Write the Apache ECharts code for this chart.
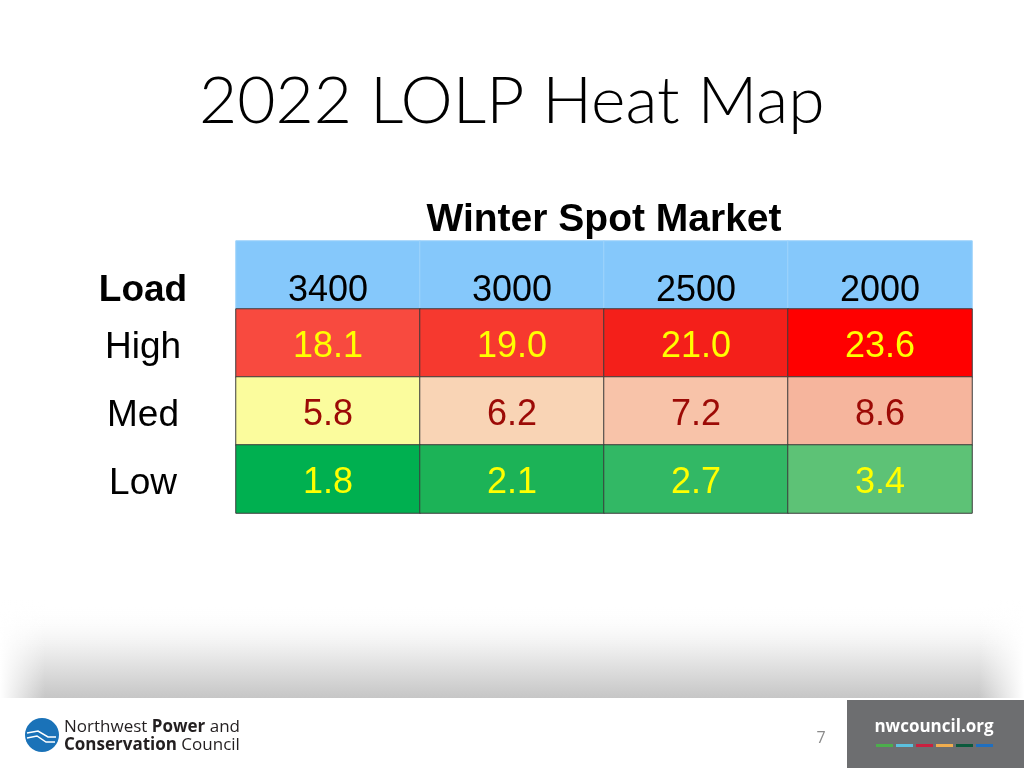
<!DOCTYPE html>
<html>
<head>
<meta charset="utf-8">
<script src="https://cdn.jsdelivr.net/npm/echarts@6/dist/echarts.min.js"></script>
<style>
  html, body { margin: 0; padding: 0; background: #fff; }
  #chart { width: 1024px; height: 768px; }
</style>
</head>
<body>
<div id="chart"></div>
<script>
// table data
const spotMarket = ['3400', '3000', '2500', '2000']
const loadLevels = ['High', 'Med', 'Low']
const lolpHigh = [18.1, 19.0, 21.0, 23.6]
const lolpMed = [5.8, 6.2, 7.2, 8.6]
const lolpLow = [1.8, 2.1, 2.7, 3.4]

// cell fills copied from the slide (conditional format per row)
const highColors = ['#f84a3f', '#f6392f', '#f41f1a', '#ff0000']
const medColors = ['#fbfc9d', '#f9d4b5', '#f8c3a9', '#f6b59d']
const lowColors = ['#00b050', '#1cb357', '#32b865', '#5dc276']

const rows = [
  { values: lolpHigh, colors: highColors, text: '#ffff00' },
  { values: lolpMed, colors: medColors, text: '#9c0a06' },
  { values: lolpLow, colors: lowColors, text: '#ffff00' }
]

const cellData = []
rows.forEach((row, r) => {
  row.values.forEach((v, c) => {
    cellData.push({
      value: [c, r + 1, v],
      itemStyle: { color: row.colors[c] },
      label: { color: row.text }
    })
  })
})

const headerData = spotMarket.map((name, c) => [c, 0, 0])

const chart = echarts.init(document.getElementById('chart'))
chart.setOption({
  animation: false,
  title: [
    {
      text: '2022 LOLP Heat Map',
      left: 194,
      top: 64,
      textStyle: {
        fontFamily: 'Lato',
        fontWeight: 300,
        fontSize: 66,
        color: '#000'
      }
    },
    {
      text: 'Winter Spot Market',
      left: 599,
      textAlign: 'center',
      top: 196,
      textStyle: {
        fontFamily: 'Liberation Sans, Arial',
        fontWeight: 'bold',
        fontSize: 39,
        color: '#000'
      }
    }
  ],
  grid: {
    left: 236,
    right: 52,
    top: 241,
    bottom: 255
  },
  xAxis: {
    type: 'category',
    data: spotMarket,
    show: false
  },
  yAxis: {
    type: 'category',
    inverse: true,
    data: ['Load'].concat(loadLevels),
    axisLine: { show: false },
    axisTick: { show: false },
    splitLine: { show: false },
    axisLabel: {
      margin: 93,
      align: 'center',
      fontFamily: 'Liberation Sans, Arial',
      fontSize: 37,
      color: '#000',
      padding: [10, 0, 0, 0],
      formatter: (v) => (v === 'Load' ? '{b|' + v + '}' : v),
      rich: {
        b: {
          fontFamily: 'Liberation Sans, Arial',
          fontWeight: 'bold',
          fontSize: 37,
          color: '#000',
          padding: [22, 0, 0, 0]
        }
      }
    }
  },
  series: [
    {
      type: 'heatmap',
      data: headerData,
      itemStyle: {
        color: '#85c8fb',
        borderColor: '#9fd3fb',
        borderWidth: 1
      },
      label: {
        show: true,
        formatter: (p) => spotMarket[p.value[0]],
        fontFamily: 'Liberation Sans, Arial',
        fontSize: 36,
        color: '#000',
        offset: [0, 16]
      },
      emphasis: { disabled: true }
    },
    {
      type: 'heatmap',
      data: cellData,
      itemStyle: {
        borderColor: '#3c3c3c',
        borderWidth: 1
      },
      label: {
        show: true,
        formatter: (p) => p.value[2].toFixed(1),
        fontFamily: 'Liberation Sans, Arial',
        fontSize: 36,
        offset: [0, 4]
      },
      emphasis: { disabled: true }
    }
  ],
  graphic: [
    // footer shadow band
    {
      type: 'rect',
      shape: { x: 0, y: 605, width: 1024, height: 93 },
      style: {
        fill: new echarts.graphic.LinearGradient(0, 0, 0, 1, [
          { offset: 0, color: 'rgba(255,255,255,0)' },
          { offset: 0.5, color: 'rgba(236,236,236,1)' },
          { offset: 1, color: 'rgba(198,198,198,1)' }
        ])
      },
      silent: true
    },
    {
      type: 'rect',
      shape: { x: 0, y: 600, width: 45, height: 98 },
      style: {
        fill: new echarts.graphic.LinearGradient(0, 0, 1, 0, [
          { offset: 0, color: 'rgba(255,255,255,1)' },
          { offset: 1, color: 'rgba(255,255,255,0)' }
        ])
      },
      silent: true
    },
    {
      type: 'rect',
      shape: { x: 979, y: 600, width: 45, height: 98 },
      style: {
        fill: new echarts.graphic.LinearGradient(0, 0, 1, 0, [
          { offset: 0, color: 'rgba(255,255,255,0)' },
          { offset: 1, color: 'rgba(255,255,255,1)' }
        ])
      },
      silent: true
    },
    {
      type: 'rect',
      shape: { x: 847, y: 700, width: 177, height: 68 },
      style: { fill: '#6d6e70' },
      silent: true
    },
    {
      type: 'text',
      x: 934,
      y: 727,
      style: {
        text: 'nwcouncil.org',
        fill: '#fff',
        font: 'bold 17px "Open Sans", sans-serif',
        textAlign: 'center',
        textVerticalAlign: 'middle'
      }
    },
    { type: 'rect', shape: { x: 876, y: 744, width: 17, height: 3 }, style: { fill: '#4cae4c' } },
    { type: 'rect', shape: { x: 896, y: 744, width: 17, height: 3 }, style: { fill: '#5bc0de' } },
    { type: 'rect', shape: { x: 916, y: 744, width: 17, height: 3 }, style: { fill: '#c9203f' } },
    { type: 'rect', shape: { x: 936, y: 744, width: 17, height: 3 }, style: { fill: '#f0ad4e' } },
    { type: 'rect', shape: { x: 956, y: 744, width: 17, height: 3 }, style: { fill: '#0b5a3c' } },
    { type: 'rect', shape: { x: 976, y: 744, width: 17, height: 3 }, style: { fill: '#1f6fc0' } },
    {
      type: 'text',
      x: 821,
      y: 738,
      style: {
        text: '7',
        fill: '#8a8a8a',
        font: '16px "Open Sans", sans-serif',
        textAlign: 'center',
        textVerticalAlign: 'middle'
      }
    },
    // logo
    {
      type: 'circle',
      shape: { cx: 42, cy: 735, r: 17 },
      style: { fill: '#1a72b8' }
    },
    {
      type: 'polyline',
      shape: { points: [[27, 733], [38, 731], [48, 737], [56, 737]] },
      style: { stroke: '#fff', lineWidth: 1.5, fill: null }
    },
    {
      type: 'polyline',
      shape: { points: [[27, 738], [37, 736], [46, 742], [55, 742]] },
      style: { stroke: '#fff', lineWidth: 1.5, fill: null }
    },
    {
      type: 'text',
      x: 64,
      y: 727,
      style: {
        text: 'Northwest {b|Power} and',
        fill: '#231f20',
        font: '17px "Open Sans", sans-serif',
        textVerticalAlign: 'middle',
        rich: { b: { fontWeight: 'bold', fontSize: 17, fontFamily: 'Open Sans' } }
      }
    },
    {
      type: 'text',
      x: 64,
      y: 745,
      style: {
        text: '{b|Conservation} Council',
        fill: '#231f20',
        font: '17px "Open Sans", sans-serif',
        textVerticalAlign: 'middle',
        rich: { b: { fontWeight: 'bold', fontSize: 17, fontFamily: 'Open Sans' } }
      }
    }
  ]
})
</script>
</body>
</html>
